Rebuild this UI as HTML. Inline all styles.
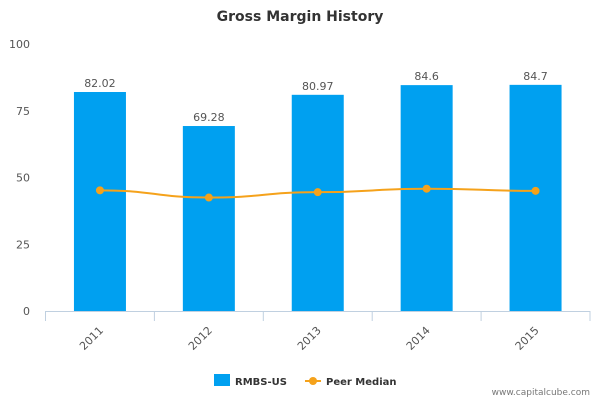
<!DOCTYPE html>
<html><head><meta charset="utf-8"><style>
body{margin:0;background:#fff;font-family:"Liberation Sans","DejaVu Sans",sans-serif}
svg text{font-family:"DejaVu Sans","Liberation Sans",sans-serif}
</style></head><body>
<svg id="c" width="600" height="400" viewBox="0 0 600 400">
<text x="300" y="21" text-anchor="middle" font-size="14" font-weight="bold" fill="#333">Gross Margin History</text>
<g id="yaxis"></g>
<g id="bars"></g>
<g id="line"></g>
<g id="xaxis"></g>
<g>
<rect x="214" y="374" width="16" height="12" fill="#00a0f0"/>
<text x="235" y="385" font-size="10" font-weight="bold" fill="#333">RMBS-US</text>
<line x1="305" y1="381" x2="321" y2="381" stroke="#f5a21b" stroke-width="2"/>
<circle cx="313" cy="381" r="4" fill="#f5a21b"/>
<text x="326" y="385" font-size="10" font-weight="bold" fill="#333">Peer Median</text>
</g>
<text x="590" y="395" text-anchor="end" font-size="9" fill="#777">www.capitalcube.com</text>
</svg>
<script>
const categories=["2011","2012","2013","2014","2015"];
const rmbsValues=[82.02,69.28,80.97,84.6,84.7];
const rmbsLabels=["82.02","69.28","80.97","84.6","84.7"];
const peerValues=[45.2,42.5,44.5,45.8,45.0];
const yTicks=[0,25,50,75,100];
const NS="http://www.w3.org/2000/svg";
const x0=45.5,x1=590,y0=311,y1=44;
const band=(x1-x0)/categories.length;
const xC=i=>x0+band*(i+0.5);
const yS=v=>y0-(v/100)*(y0-y1);
function mk(t,a,p){const e=document.createElementNS(NS,t);for(const k in a)e.setAttribute(k,a[k]);p.appendChild(e);return e;}
const ya=document.getElementById('yaxis');
yTicks.forEach(t=>{const e=mk('text',{x:30,y:yS(t)+4,'text-anchor':'end','font-size':11,fill:'#555'},ya);e.textContent=t;

});
const bg=document.getElementById('bars');
rmbsValues.forEach((v,i)=>{const r=mk('rect',{x:xC(i)-26,y:yS(v),width:52,height:y0-yS(v),fill:'#00a0f0'},bg);


const t=mk('text',{x:xC(i),y:yS(v)-5,'text-anchor':'middle','font-size':11,fill:'#555'},bg);t.textContent=rmbsLabels[i];

});
const lg=document.getElementById('line');
let d='';peerValues.forEach((v,i)=>{const x=xC(i),y=yS(v);
if(i===0)d='M'+x+','+y;else{const px=xC(i-1),py=yS(peerValues[i-1]);d+=' C'+(px+band/2)+','+py+' '+(x-band/2)+','+y+' '+x+','+y;}});
const p=mk('path',{d:d,fill:'none',stroke:'#f5a21b','stroke-width':2},lg);


peerValues.forEach((v,i)=>{const c=mk('circle',{cx:xC(i),cy:yS(v),r:4,fill:'#f5a21b'},lg);

});
const xa=document.getElementById('xaxis');
mk('line',{x1:x0,y1:y0+0.5,x2:x1,y2:y0+0.5,stroke:'#c0d0e0'},xa);
for(let i=0;i<=categories.length;i++){const x=x0+band*i;mk('line',{x1:x,y1:y0,x2:x,y2:y0+10,stroke:'#c0d0e0'},xa);}
categories.forEach((c,i)=>{const x=xC(i)+4,y=y0+20;const t=mk('text',{x:x,y:y,'text-anchor':'end','font-size':11,fill:'#555',transform:'rotate(-45 '+x+' '+y+')'},xa);t.textContent=c;

});
</script>
</body></html>
